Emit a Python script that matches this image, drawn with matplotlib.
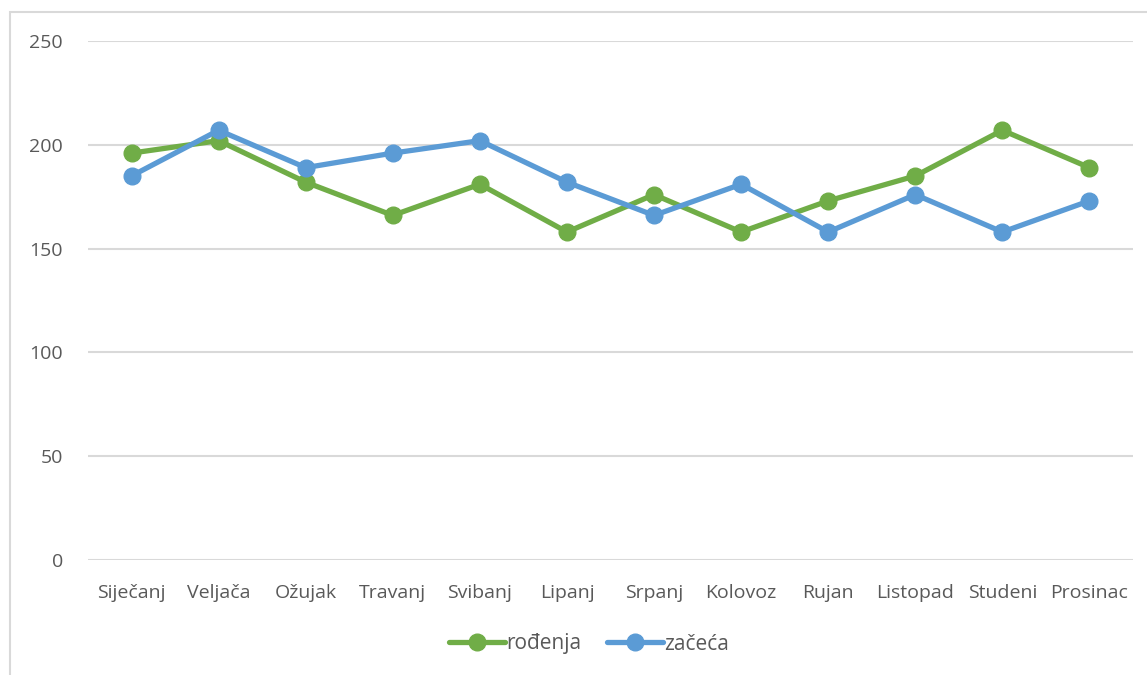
import matplotlib
matplotlib.use('Agg')
from matplotlib import pyplot as plt
from matplotlib.patches import Rectangle

months = ['Siječanj', 'Veljača', 'Ožujak', 'Travanj', 'Svibanj', 'Lipanj',
          'Srpanj', 'Kolovoz', 'Rujan', 'Listopad', 'Studeni', 'Prosinac']
rodenja = [196, 202, 182, 166, 181, 158, 176, 158, 173, 185, 207, 189]
zaceca = [185, 207, 189, 196, 202, 182, 166, 181, 158, 176, 158, 173]
yticks = [0, 50, 100, 150, 200, 250]

green = '#70AD47'
blue = '#5B9BD5'
txt = '#595959'
gridc = '#D9D9D9'

plt.rcParams['font.family'] = ['Open Sans', 'DejaVu Sans']

fig = plt.figure(figsize=(11.47, 6.75), dpi=100)
fig.patches.append(Rectangle((10 / 1147, -0.1), 1.2, (675 - 12) / 675 + 0.1,
                             transform=fig.transFigure, fill=False,
                             edgecolor=gridc, linewidth=1.5))

ax = fig.add_axes([88 / 1147, 115 / 675, 1045 / 1147, 519 / 675])
x = range(len(months))
ax.plot(x, rodenja, color=green, linewidth=3.8, marker='o', markersize=12,
        label='rođenja', solid_capstyle='round', solid_joinstyle='round')
ax.plot(x, zaceca, color=blue, linewidth=3.8, marker='o', markersize=12,
        label='začeća', solid_capstyle='round', solid_joinstyle='round')

ax.set_xlim(-0.5, len(months) - 0.5)
ax.set_ylim(0, 250)
ax.set_yticks(yticks)
ax.set_xticks(list(x))
ax.set_xticklabels(months)
ax.tick_params(length=0, colors=txt, labelsize=14)
ax.tick_params(axis='y', pad=18)
ax.tick_params(axis='x', pad=17)
ax.grid(axis='y', color=gridc, linewidth=1.5)
ax.set_axisbelow(True)
for s in ax.spines.values():
    s.set_visible(False)

leg = fig.legend(loc='center', bbox_to_anchor=(589 / 1147, 1 - 644 / 675), ncol=2,
                 frameon=False, fontsize=15, handlelength=2.7,
                 columnspacing=1.2, handletextpad=0.05)
for t in leg.get_texts():
    t.set_color(txt)

plt.savefig('out.png', dpi=100)
